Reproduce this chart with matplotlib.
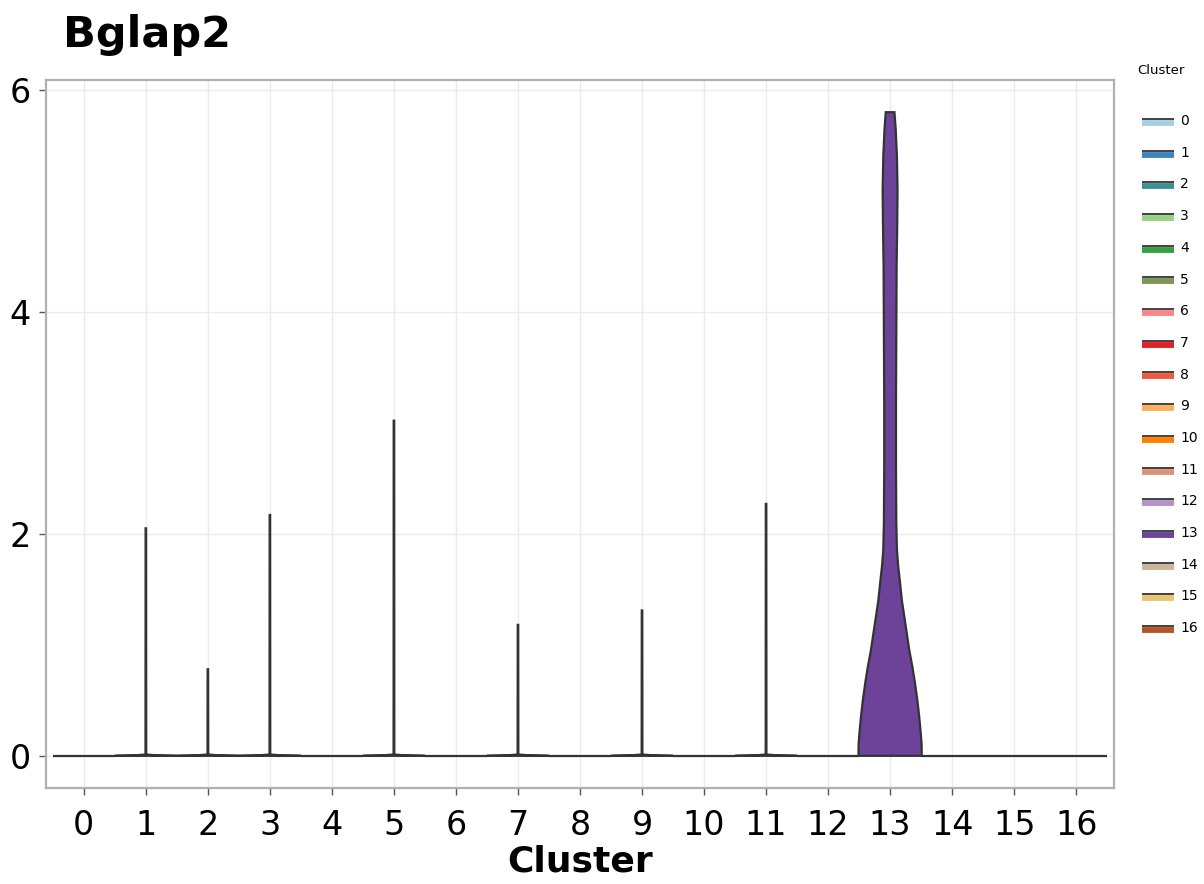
import numpy as np
import matplotlib
matplotlib.use("Agg")
import matplotlib.pyplot as plt
from matplotlib.lines import Line2D

plt.rcParams['font.family'] = ['DejaVu Sans']

# ---- data -------------------------------------------------------------
gene = "Bglap2"
clusters = [str(i) for i in range(17)]
cluster_colors = [
    "#A6CEE3", "#3D86BE", "#3F9096", "#98D27E", "#36A13A", "#7D9656",
    "#F98686", "#E31E24", "#EF5A3C", "#FDAE5F", "#FF7F00", "#DE9377",
    "#B391C9", "#6D4299", "#C7B79A", "#E6C66E", "#B4552B",
]
# highest expression value observed in each cluster (0 = no expressing cells)
max_expr = [0.0, 2.05, 0.78, 2.17, 0.0, 3.02, 0.0, 1.18, 0.0, 1.31,
            0.0, 2.27, 0.0, 5.80, 0.0, 0.0, 0.0]

# density profile (scaled half-width) for the one strongly expressing cluster
c13_level = [0.0, 0.10, 0.20, 0.35, 0.50, 0.66, 0.80, 0.95, 1.10, 1.25,
             1.40, 1.56, 1.71, 1.86, 2.10, 2.60, 3.20, 3.80, 4.40, 4.80,
             5.10, 5.40, 5.65, 5.80]
c13_width = [0.51, 0.508, 0.495, 0.47, 0.44, 0.40, 0.36, 0.31, 0.27, 0.23,
             0.19, 0.16, 0.13, 0.11, 0.10, 0.095, 0.095, 0.10, 0.105, 0.115,
             0.12, 0.11, 0.09, 0.07]

# shape of a sparse cluster: nearly all zeros plus a thin tail up to its max
sparse_base_level = [0.0, 0.004, 0.012]
sparse_base_width = [0.5, 0.18, 0.006]
sparse_tail_width = 0.004
zero_width = 0.5

x_ticks = list(range(17))
y_ticks = [0, 2, 4, 6]

# ---- figure -----------------------------------------------------------
W, H = 1204, 884
fig = plt.figure(figsize=(W / 100, H / 100), dpi=100)
ax = fig.add_axes([46 / W, 1 - 788 / H, (1114 - 46) / W, (788 - 80) / H])

edge = "#333333"


def violin(ax, x, levels, widths, color):
    levels = np.asarray(levels, float)
    widths = np.asarray(widths, float)
    xs = np.concatenate([x - widths, (x + widths)[::-1]])
    ys = np.concatenate([levels, levels[::-1]])
    ax.fill(xs, ys, facecolor=color, edgecolor=edge, linewidth=1.6,
            joinstyle="miter", zorder=3)


for i, (m, col) in enumerate(zip(max_expr, cluster_colors)):
    if i == 13:
        violin(ax, i, c13_level, c13_width, col)
    elif m > 0:
        lv = sparse_base_level + [m]
        wd = sparse_base_width + [sparse_tail_width]
        violin(ax, i, lv, wd, col)
    else:
        violin(ax, i, [0.0, 0.0], [zero_width, zero_width], col)

ax.set_xlim(-0.61, 16.61)
ax.set_ylim(-0.29, 6.09)
ax.set_xticks(x_ticks)
ax.set_xticklabels(clusters)
ax.set_yticks(y_ticks)
ax.grid(True, color="#ebebeb", linewidth=1.0, zorder=0)
ax.set_axisbelow(True)
for s in ax.spines.values():
    s.set_color("#b0b0b0")
    s.set_linewidth(1.6)
ax.tick_params(axis="both", colors="#555555", length=5, width=1.0,
               labelsize=24, labelcolor="black")
ax.tick_params(axis="x", pad=10)
ax.tick_params(axis="y", pad=6)

ax.set_xlabel("Cluster", fontsize=26, fontweight="bold", labelpad=2)
fig.text(63 / W, 1 - 47 / H, gene, fontsize=31, fontweight="bold",
         ha="left", va="baseline")

# ---- legend (drawn in pixel coordinates on the right) -----------------
lax = fig.add_axes([0, 0, 1, 1], facecolor="none")
lax.set_xlim(0, W)
lax.set_ylim(H, 0)
lax.axis("off")
lax.text(1137, 71, "Cluster", fontsize=9.5, ha="left", va="center")
for k, (lab, col) in enumerate(zip(clusters, cluster_colors)):
    yc = 121 + k * 31.7
    lax.add_line(Line2D([1142, 1174], [yc + 1.8, yc + 1.8], color=col,
                        linewidth=4.2, solid_capstyle="butt"))
    lax.add_line(Line2D([1142, 1174], [yc - 2.2, yc - 2.2], color=edge,
                        linewidth=1.3, solid_capstyle="butt"))
    lax.text(1180, yc, lab, fontsize=10, ha="left", va="center")

fig.savefig("out.png", dpi=100)
